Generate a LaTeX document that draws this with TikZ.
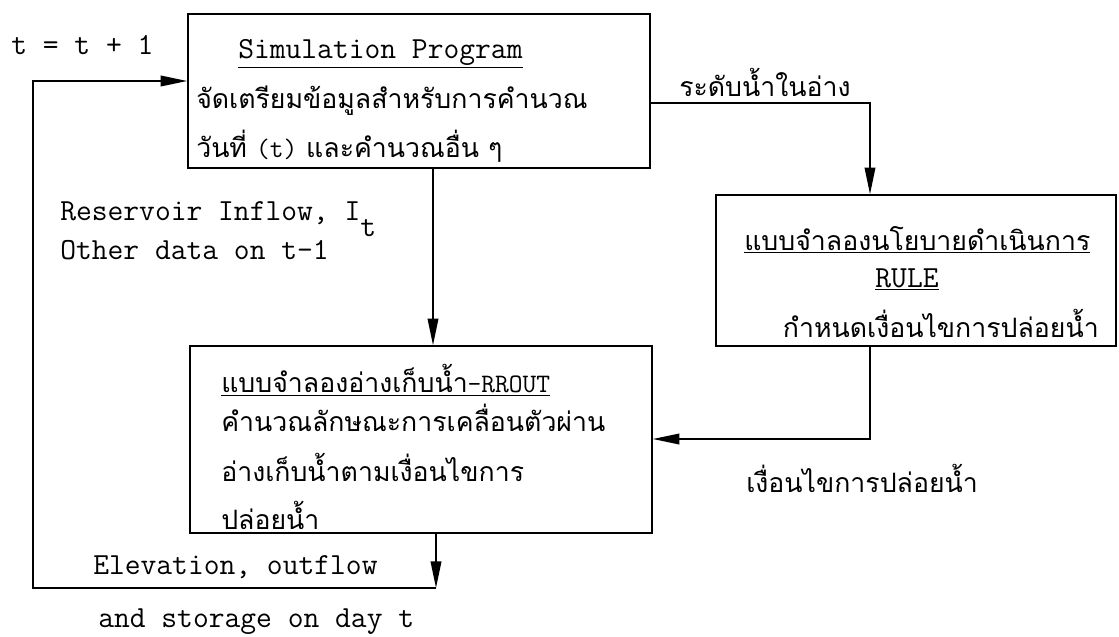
\documentclass[tikz,border=0pt]{standalone}
\usepackage{fontspec}
\newfontfamily\thaifont[Script=Thai]{Loma}
\usetikzlibrary{arrows.meta}

\begin{document}
\begin{tikzpicture}[x=0.75pt,y=0.75pt,yscale=-1,xscale=1,
  box/.style={draw, line width=1.2pt, inner sep=0pt},
  flow/.style={draw, line width=1.2pt, -{Triangle[length=20pt,width=8pt]}},
  txt/.style={inner sep=0.75pt, font=\fontsize{23}{27}\selectfont\ttfamily},
  thtxt/.style={inner sep=0.75pt, font=\fontsize{20}{24}\selectfont\thaifont}]
\useasboundingbox (0,0) rectangle (1119,636);

%Shape: Rectangle [sim]
\node [box, minimum width=346.5pt, minimum height=115.5pt] (sim) at (419,91) {};
%Shape: Rectangle [rule]
\node [box, minimum width=300pt, minimum height=113.25pt] (rule) at (916,270.5) {};
%Shape: Rectangle [rrout]
\node [box, minimum width=346.5pt, minimum height=140.25pt] (rrout) at (421,439.5) {};

%Bends
\coordinate (lvl) at (870,103);
\coordinate (rel) at (870,439);
\coordinate (dn) at (433,258);
\coordinate (back) at (436,588);
\coordinate (loop) at (33,81);

%Straight Lines
\draw [flow] (sim.east |- lvl) -- (lvl) -- (lvl |- rule.north);
%Straight Lines
\draw [flow] (sim.south -| dn) -- (rrout.north -| dn);
%Straight Lines
\draw [flow] (rel |- rule.south) -- (rel) -- (rrout.east |- rel);
%Straight Lines
\draw [flow] (rrout.south -| back) -- (back);
%Straight Lines
\draw [flow] (back) -| (loop) -- (sim.west |- loop);

% Text Node
\node [txt, anchor=base west] (tinc) at (10,54) {t = t + 1};
% Text Node
\node [txt, anchor=base west] (simA) at (237,58) {\underline{Simulation Program}};
% Text Node
\node [thtxt, anchor=west] (simB) at (195,101) {จัดเตรียมข้อมูลสำหรับการคำนวณ};
% Text Node
\node [thtxt, anchor=west] (simC) at (195,146) {วันที่ {\ttfamily (t)} และคำนวณอื่น ๆ};
% Text Node
\node [thtxt, anchor=west] (lvltxt) at (678,82) {ระดับน้ำในอ่าง};
% Text Node
\node [thtxt, anchor=west] (ruleA) at (743,240) {\underline{แบบจำลองนโยบายดำเนินการ}};
% Text Node
\node [txt, anchor=base] (ruleB) at (907,287) {\underline{RULE}};
% Text Node
\node [thtxt, anchor=east] (ruleC) at (1100,323) {กำหนดเงื่อนไขการปล่อยน้ำ};
% Text Node
\node [txt, anchor=base west] (inflow) at (59,220) {Reservoir Inflow, I\raisebox{-0.55em}{t}};
% Text Node
\node [txt, anchor=base west] (other) at (59,259) {Other data on t-1};
% Text Node
\node [thtxt, anchor=west] (rrA) at (220,380) {\underline{แบบจำลองอ่างเก็บน้ำ{\ttfamily -RROUT}}};
% Text Node
\node [thtxt, anchor=west] (rrB) at (220,418) {คำนวณลักษณะการเคลื่อนตัวผ่าน};
% Text Node
\node [thtxt, anchor=west] (rrC) at (220,467) {อ่างเก็บน้ำตามเงื่อนไขการ};
% Text Node
\node [thtxt, anchor=west] (rrD) at (220,515) {ปล่อยน้ำ};
% Text Node
\node [thtxt, anchor=west] (reltxt) at (745,478) {เงื่อนไขการปล่อยน้ำ};
% Text Node
\node [txt, anchor=base west] (elev) at (92,574) {Elevation, outflow};
% Text Node
\node [txt, anchor=base west] (stor) at (97,627) {and storage on day t};

\end{tikzpicture}
\end{document}
